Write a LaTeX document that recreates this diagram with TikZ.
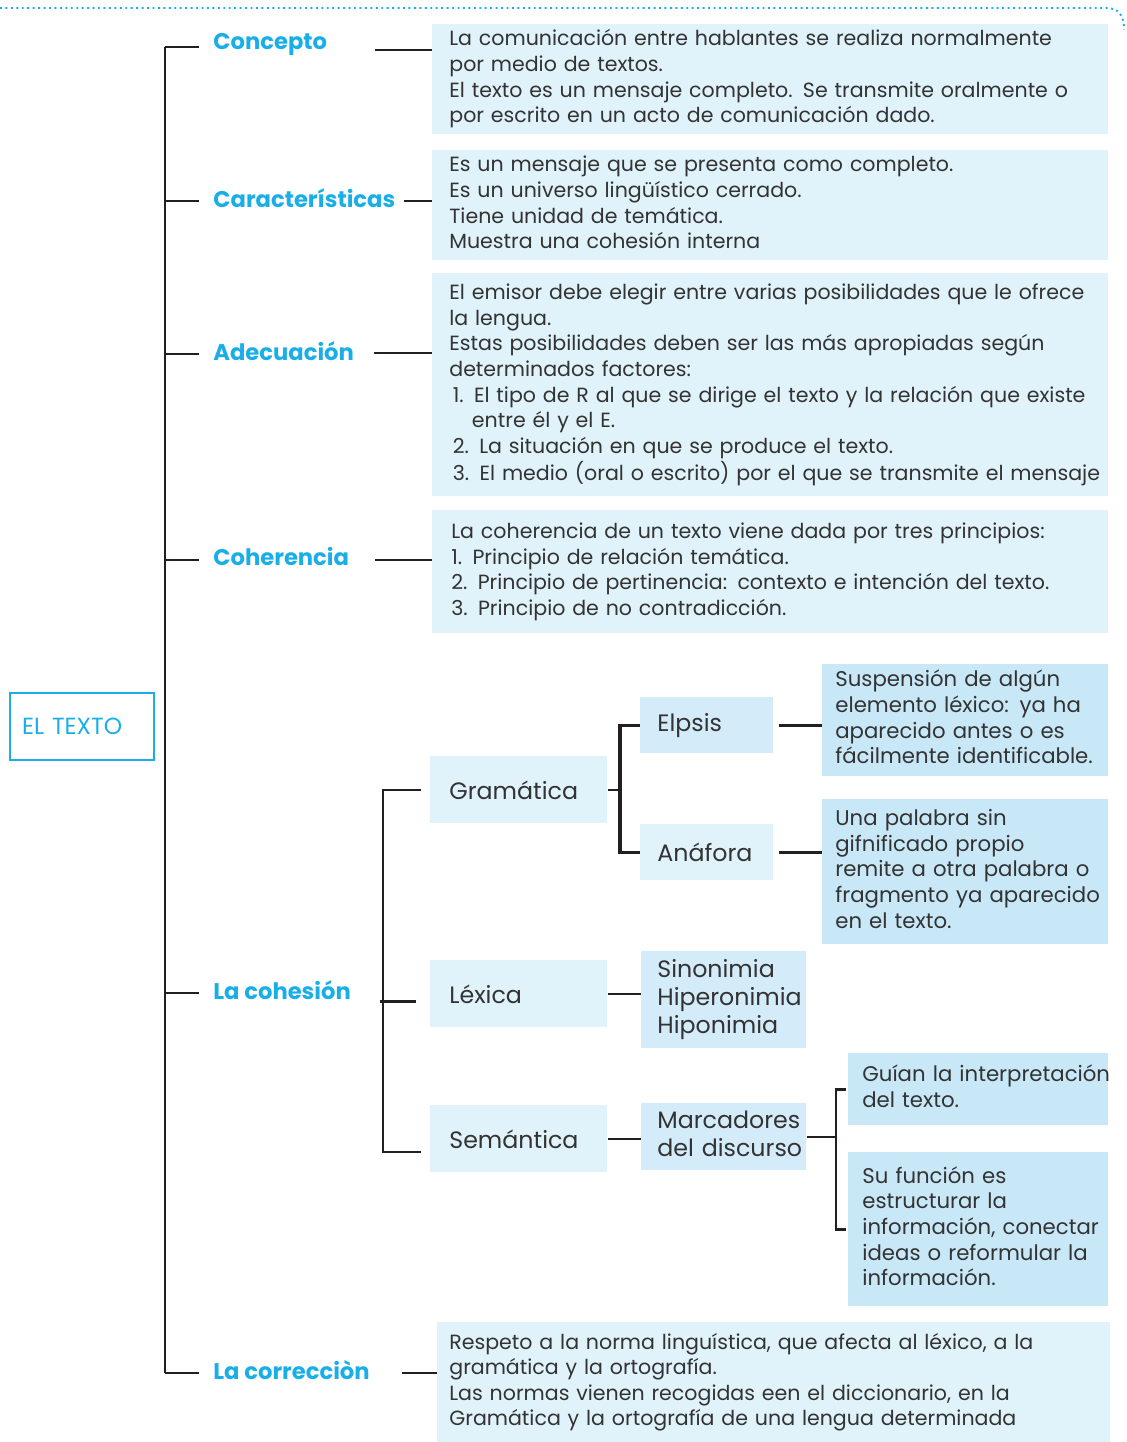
\documentclass[tikz,border=0pt]{standalone}
\usepackage{fontspec}
\setmainfont{Poppins}
\usepackage{tikz}
\usetikzlibrary{calc}

\definecolor{titlecyan}{HTML}{1AAEE8}
\definecolor{boxlight}{HTML}{E0F2FA}
\definecolor{boxmid}{HTML}{D4ECF9}
\definecolor{boxdark}{HTML}{C8E8F8}
\definecolor{inkgray}{HTML}{333333}
\definecolor{linegray}{HTML}{231F20}

\newcommand{\textlines}[1]{\begin{tabular}{@{}l@{}}#1\end{tabular}}

\tikzset{
  topic/.style={anchor=west, inner sep=0pt, text=titlecyan, font=\fontsize{12.9}{15}\selectfont\bfseries},
  infobox/.style={anchor=north west, fill=boxlight, text=inkgray, align=left, inner ysep=0pt, inner xsep=0.34cm, font=\fontsize{11.7}{14.6}\selectfont},
  subbox/.style={anchor=north west, fill=boxlight, text=inkgray, align=left, inner ysep=0pt, font=\fontsize{13.5}{16}\selectfont},
  descbox/.style={anchor=north west, fill=boxdark, text=inkgray, align=left, inner ysep=0pt, inner xsep=0.26cm, font=\fontsize{12.1}{14.6}\selectfont},
  link/.style={draw=linegray, line width=1.4pt},
  boldlink/.style={draw=linegray, line width=1.8pt},
}

\begin{document}
\begin{tikzpicture}[x=0.02cm, y=-0.02cm]
\useasboundingbox (0,0) rectangle (1126,1442);

% Drawing frame
\draw[titlecyan, dotted, line width=1.1pt] (0,8) -- (1106,8) .. controls (1118,8) and (1124,14) .. (1124,30);

% Drawing root
\node[draw=titlecyan, line width=1.4pt, text=titlecyan, anchor=north west, align=left,
  inner xsep=0.24cm, text width=2.4cm, minimum height=1.34cm,
  font=\fontsize{13.3}{15}\selectfont] (eltexto) at (9,692) {EL TEXTO};

% Drawing topics
\node[topic] (lconcepto) at (213,44) {Concepto};
\node[topic] (lcaract) at (213,198) {Características};
\node[topic] (ladecuacion) at (213,351) {Adecuación};
\node[topic] (lcoherencia) at (213,557) {Coherencia};
\node[topic] (lcohesion) at (213,990) {La cohesión};
\node[topic] (lcorreccion) at (213,1370) {La correcciòn};

% Drawing boxes
\node[infobox, text width=12.84cm, minimum height=2.2cm] (bconcepto) at (432,24)
  {\textlines{La comunicación entre hablantes se realiza normalmente\\
   por medio de textos.\\
   El texto es un mensaje completo. Se transmite oralmente o\\
   por escrito en un acto de comunicación dado.}};
\node[infobox, text width=12.84cm, minimum height=2.2cm] (bcaract) at (432,150)
  {\textlines{Es un mensaje que se presenta como completo.\\
   Es un universo lingüístico cerrado.\\
   Tiene unidad de temática.\\
   Muestra una cohesión interna}};
\node[infobox, text width=12.84cm, minimum height=4.46cm] (badecuacion) at (432,273)
  {\textlines{El emisor debe elegir entre varias posibilidades que le ofrece\\
   la lengua.\\
   Estas posibilidades deben ser las más apropiadas según\\
   determinados factores:\\
   \hspace*{2pt}1. El tipo de R al que se dirige el texto y la relación que existe\\
   \hspace*{1.1em}entre él y el E.\\
   \hspace*{2pt}2. La situación en que se produce el texto.\\
   \hspace*{2pt}3. El medio (oral o escrito) por el que se transmite el mensaje}};
\node[infobox, inner xsep=0.38cm, text width=12.76cm, minimum height=2.46cm] (bcoherencia) at (432,510)
  {\textlines{La coherencia de un texto viene dada por tres principios:\\
   1. Principio de relación temática.\\
   2. Principio de pertinencia: contexto e intención del texto.\\
   3. Principio de no contradicción.}};
\node[infobox, inner xsep=0.24cm, text width=12.98cm, minimum height=2.4cm] (bcorreccion) at (437,1322)
  {\textlines{Respeto a la norma linguística, que afecta al léxico, a la\\
   gramática y la ortografía.\\
   Las normas vienen recogidas een el diccionario, en la\\
   Gramática y la ortografía de una lengua determinada}};

% Drawing cohesion parts
\node[subbox, inner xsep=0.38cm, text width=2.78cm, minimum height=1.34cm] (bgramatica) at (430,756) {Gramática};
\node[subbox, inner xsep=0.38cm, text width=2.78cm, minimum height=1.34cm] (blexica) at (430,960) {Léxica};
\node[subbox, inner xsep=0.38cm, text width=2.78cm, minimum height=1.34cm] (bsemantica) at (430,1105) {Semántica};
\node[subbox, fill=boxmid, inner xsep=0.34cm, text width=1.98cm, minimum height=1.12cm] (belpsis) at (640,697) {Elpsis};
\node[subbox, inner xsep=0.34cm, text width=1.98cm, minimum height=1.12cm] (banafora) at (640,824) {Anáfora};
\node[subbox, fill=boxmid, inner xsep=0.32cm, text width=2.66cm, minimum height=1.94cm] (bsinonimia) at (641,951)
  {\textlines{Sinonimia\\Hiperonimia\\Hiponimia}};
\node[subbox, fill=boxmid, inner xsep=0.32cm, text width=2.66cm, minimum height=1.34cm] (bmarcadores) at (641,1103)
  {\textlines{Marcadores\\del discurso}};

\node[descbox, text width=5.2cm, minimum height=2.24cm] (delpsis) at (822,664)
  {\textlines{Suspensión de algún\\
   elemento léxico: ya ha\\
   aparecido antes o es\\
   fácilmente identificable.}};
\node[descbox, text width=5.2cm, minimum height=2.9cm] (danafora) at (822,799)
  {\textlines{Una palabra sin\\
   gifnificado propio\\
   remite a otra palabra o\\
   fragmento ya aparecido\\
   en el texto.}};
\node[descbox, inner xsep=0.28cm, text width=4.64cm, minimum height=1.44cm] (dguian) at (848,1053)
  {\textlines{Guían la interpretación\\
   del texto.}};
\node[descbox, inner xsep=0.28cm, text width=4.64cm, minimum height=3.08cm] (dfuncion) at (848,1152)
  {\textlines{Su función es\\
   estructurar la\\
   información, conectar\\
   ideas o reformular la\\
   información.}};

% Drawing main spine
\coordinate (spine) at (165,0);
\draw[link] ([yshift=-0.06cm]lconcepto.west -| spine) -- ([yshift=-0.06cm]lcorreccion.west -| spine);
\foreach \t in {lconcepto,lcaract,ladecuacion,lcoherencia,lcohesion,lcorreccion}
  \draw[link] ([yshift=-0.06cm]\t.west -| spine) -- ([xshift=-0.28cm,yshift=-0.06cm]\t.west);

% Drawing topic to box lines
\draw[link] ([yshift=-0.12cm]bconcepto.west |- lconcepto.west) -- ++(-1.14cm,0);
\draw[link] ([yshift=-0.06cm]bcaract.west |- lcaract.west) -- ++(-0.56cm,0);
\draw[link] ([yshift=-0.04cm]badecuacion.west |- ladecuacion.west) -- ++(-1.16cm,0);
\draw[link] ([yshift=-0.06cm]bcoherencia.west |- lcoherencia.west) -- ++(-1.14cm,0);
\draw[link] ([yshift=-0.06cm]bcorreccion.west |- lcorreccion.west) -- ++(-0.7cm,0);

% Drawing cohesion bracket
\coordinate (cohx) at (383,0);
\coordinate (semtick) at ([xshift=-0.18cm,yshift=-0.26cm]bsemantica.west);
\draw[link] ([xshift=-0.18cm]bgramatica.west) -| (cohx |- semtick) -- (semtick);
\draw[link] ([xshift=-0.28cm,yshift=-0.15cm]blexica.west) -- ++(-0.72cm,0);

% Drawing gramatica bracket
\coordinate (gramx) at (620,0);
\draw[link] (bgramatica.east) -- (bgramatica.east -| gramx);
\draw[boldlink] (belpsis.west) -| (gramx |- banafora.west) -- (banafora.west);
\draw[link] ([xshift=0.1cm]belpsis.east) -- (belpsis.east -| delpsis.west);
\draw[link] ([xshift=0.1cm]banafora.east) -- (banafora.east -| danafora.west);

% Drawing lexica and semantica lines
\draw[link] (blexica.east) -- (blexica.east -| bsinonimia.west);
\draw[link] (bsemantica.east) -- (bsemantica.east -| bmarcadores.west);

% Drawing marcadores bracket
\coordinate (marcx) at (836,0);
\draw[link] (bmarcadores.east) -- (bmarcadores.east -| marcx);
\draw[link] ([xshift=-0.04cm]dguian.west) -| (marcx |- dfuncion.west) -- ([xshift=-0.04cm]dfuncion.west);
\end{tikzpicture}
\end{document}
